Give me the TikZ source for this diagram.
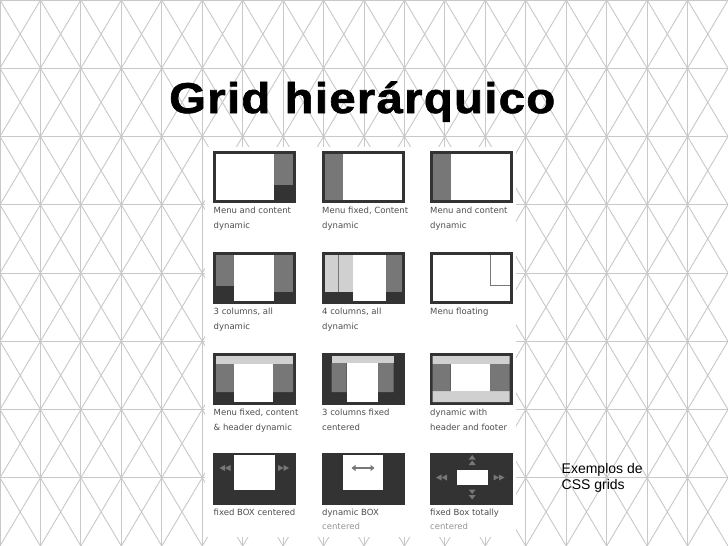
\documentclass[tikz,border=0pt]{standalone}
\usepackage{fontspec}
\usetikzlibrary{arrows.meta}
\newfontfamily\titlefont[LetterSpace=3,FakeStretch=1.1,FakeBold=1.5]{Liberation Sans}
\newfontfamily\capfont{Liberation Sans}
\newfontfamily\lblfont{DejaVu Sans}
\definecolor{gridgray}{HTML}{C8C8C8}
\definecolor{boxdark}{HTML}{333333}
\definecolor{boxmid}{HTML}{777777}
\definecolor{boxlight}{HTML}{D0D0D0}
\definecolor{lblgray}{HTML}{4E4E4E}
\tikzset{
  gridline/.style={draw=gridgray,line width=.9pt},
  lbl/.style={anchor=north west,inner sep=0pt,align=left,text=lblgray,
    font=\lblfont\fontsize{8.5}{14.3}\selectfont},
  tri/.style={fill=boxmid}
}
\begin{document}
\begin{tikzpicture}[x=1pt,y=-1pt]
  \useasboundingbox (0,0) rectangle (728,546);
  \fill[white] (0,0) rectangle (728,546);
  \foreach \i in {0,...,18}{%
    \draw[gridline] (\i*40.444,0) -- (\i*40.444,546);
  }
  \foreach \j in {0,...,8}{%
    \draw[gridline] (0,\j*68.25) -- (728,\j*68.25);
  }
  \foreach \i in {0,...,17}{%
    \foreach \j in {0,...,7}{%
      \draw[gridline] (\i*40.444,\j*68.25) -- ++(40.444,68.25)
        (\i*40.444+40.444,\j*68.25) -- ++(-40.444,68.25);
    }
  }
  \fill[white] (204.5,147) rectangle (516,537);
  \node[anchor=base west,inner sep=0pt,
    font=\titlefont\bfseries\fontsize{43}{48}\selectfont] (title) at (169,113) {Grid hierárquico};
  \node[anchor=north west,inner sep=0pt,align=left,
    font=\capfont\fontsize{14}{16}\selectfont] (caption) at (561.5,463) {Exemplos de\\CSS grids};
  \foreach \dx/\dy/\nm/\txt in {%
    213/151/lblA/{Menu and content\\dynamic},
    321.5/151/lblB/{Menu fixed, Content\\dynamic},
    429.5/151/lblC/{Menu and content\\dynamic},
    213/252/lblD/{3 columns, all\\dynamic},
    321.5/252/lblE/{4 columns, all\\dynamic},
    429.5/252/lblF/{Menu floating},
    213/353/lblG/{Menu fixed, content\\\& header dynamic},
    321.5/353/lblH/{3 columns fixed\\centered},
    429.5/353/lblI/{dynamic with\\header and footer},
    213/452.5/lblJ/{fixed BOX centered},
    321.5/452.5/lblK/{dynamic BOX\\\textcolor{lblgray!60}{centered}},
    429.5/452.5/lblL/{fixed Box totally\\\textcolor{lblgray!60}{centered}}}{%
      \begin{scope}[shift={(\dx,\dy)}]
        \fill[boxdark] (0,0) rectangle (83,52);
        \node[lbl] (\nm) at (0.5,56.3) {\txt};
      \end{scope}
    }
  \begin{scope}[shift={(213,151)}]
    \fill[white] (3,3) rectangle (61,49);
    \fill[boxmid] (61,3) rectangle (80,34);
  \end{scope}
  \foreach \dx in {321.5,429.5}{%
    \begin{scope}[shift={(\dx,151)}]
      \fill[boxmid] (3,3) rectangle (21,49);
      \fill[white] (21,3) rectangle (80,49);
    \end{scope}
  }
  \begin{scope}[shift={(213,252)}]
    \fill[boxmid] (3,3) rectangle (21,34);
    \fill[white] (21,3) rectangle (61,49);
    \fill[boxmid] (61,3) rectangle (80,40);
  \end{scope}
  \begin{scope}[shift={(321.5,252)}]
    \fill[boxlight] (3,3) rectangle (31,40);
    \draw[boxmid,line width=.8pt] (17.3,3) -- (17.3,40);
    \fill[white] (31.5,3) rectangle (64,49);
    \fill[boxmid] (64,3) rectangle (80,40);
  \end{scope}
  \begin{scope}[shift={(429.5,252)}]
    \fill[white] (3,3) rectangle (80,49);
    \draw[boxmid,line width=.8pt] (61,3) |- (80,33);
  \end{scope}
  \begin{scope}[shift={(213,353)}]
    \fill[boxlight] (3,3) rectangle (80,11);
    \fill[boxmid] (3,11) rectangle (21,39) (60,11) rectangle (80,39);
    \fill[white] (21,11) rectangle (60,49);
  \end{scope}
  \begin{scope}[shift={(321.5,353)}]
    \fill[boxlight] (10,2.5) rectangle (72,10);
    \fill[boxmid] (10,10) rectangle (25,39) (56,10) rectangle (72,39);
    \fill[white] (25,10) rectangle (56,49);
  \end{scope}
  \begin{scope}[shift={(429.5,353)}]
    \fill[boxlight] (3,3) rectangle (80,11) (3,38) rectangle (80,49);
    \fill[boxmid] (3,11) rectangle (21,38) (60,11) rectangle (80,38);
    \fill[white] (21,11) rectangle (60,38);
  \end{scope}
  \begin{scope}[shift={(213,452.5)}]
    \fill[white] (21,2.5) rectangle (61.5,37);
    \foreach \t in {6.5,12}{%
      \fill[tri] (\t,15.5) -- ++(5.5,-3) -- ++(0,6) -- cycle;
    }
    \foreach \t in {76,70.5}{%
      \fill[tri] (\t,15.5) -- ++(-5.5,-3) -- ++(0,6) -- cycle;
    }
  \end{scope}
  \begin{scope}[shift={(321.5,452.5)}]
    \fill[white] (21.5,2.5) rectangle (61.5,37);
    \coordinate (arrL) at (30,15.5);
    \coordinate (arrR) at (53,15.5);
    \draw[boxmid,line width=1.6pt,{Triangle[length=4pt,width=6pt]}-{Triangle[length=4pt,width=6pt]}] (arrL) -- (arrR);
  \end{scope}
  \begin{scope}[shift={(429.5,452.5)}]
    \fill[white] (27.5,17.5) rectangle (58,32.5);
    \foreach \t in {6.5,12}{%
      \fill[tri] (\t,25) -- ++(5.5,-3) -- ++(0,6) -- cycle;
    }
    \foreach \t in {75,69.5}{%
      \fill[tri] (\t,25) -- ++(-5.5,-3) -- ++(0,6) -- cycle;
    }
    \foreach \t in {2.5,8}{%
      \fill[tri] (42.7,\t) -- ++(-3.5,4.5) -- ++(7,0) -- cycle;
    }
    \foreach \t in {47,41.5}{%
      \fill[tri] (42.7,\t) -- ++(-3.5,-4.5) -- ++(7,0) -- cycle;
    }
  \end{scope}
\end{tikzpicture}
\end{document}
